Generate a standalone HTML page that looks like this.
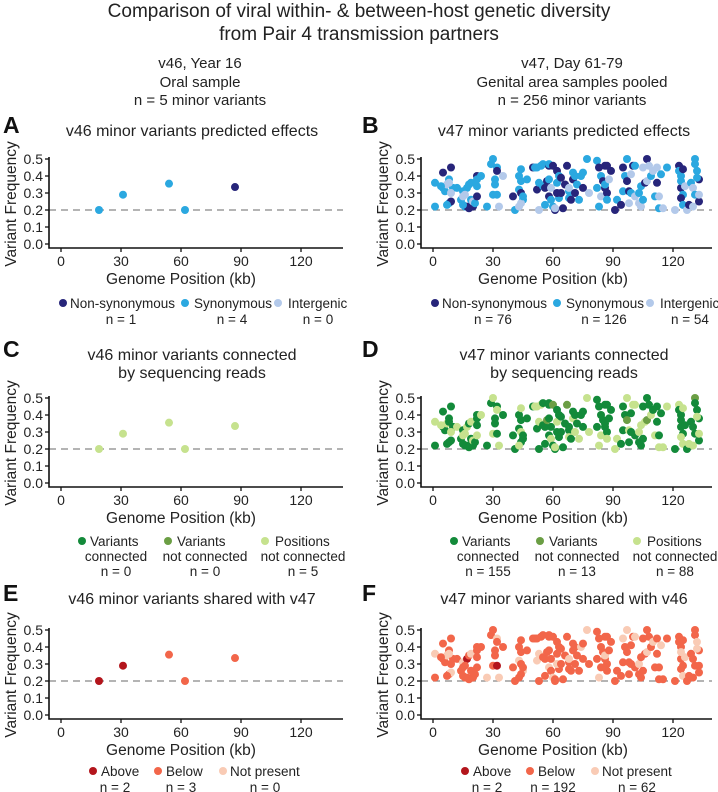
<!DOCTYPE html>
<html><head><meta charset="utf-8"><style>
html,body{margin:0;padding:0;background:#fff}
svg{display:block;font-family:"Liberation Sans",Arial,sans-serif}
</style></head><body>
<svg id="fig" width="718" height="792" viewBox="0 0 718 792" xmlns="http://www.w3.org/2000/svg">
<g font-size="19" fill="#222" text-anchor="middle">
<text x="359" y="17">Comparison of viral within- &amp; between-host genetic diversity</text>
<text x="359" y="40">from Pair 4 transmission partners</text>
</g>
<g font-size="15" fill="#222" text-anchor="middle">
<text x="200" y="68">v46, Year 16</text><text x="200" y="87">Oral sample</text><text x="200" y="105">n = 5 minor variants</text>
</g>
<g font-size="15" fill="#222" text-anchor="middle">
<text x="572" y="68">v47, Day 61-79</text><text x="572" y="87">Genital area samples pooled</text><text x="572" y="105">n = 256 minor variants</text>
</g>
<g id="panels"></g>
</svg>
<script>
// v46 variants: kb, frequency
const v46Kb = [19, 31, 54, 62, 87];
const v46Freq = [0.20, 0.29, 0.355, 0.20, 0.335];
const v46Effect = ['S','S','S','S','N'];
const v46Conn = ['P','P','P','P','P'];
const v46Shared = ['A','A','B','B','B'];

// v47 variants: [kb, frequency, predicted effect]
const v47Variants = [
[1,.36,'S'],[1,.22,'S'],[5,.42,'N'],[5,.33,'S'],[6,.31,'S'],[7,.35,'I'],[8,.38,'S'],[8,.24,'S'],[9,.45,'N'],[9,.25,'N'],[10,.33,'S'],[9,.30,'I'],[7,.23,'S'],[8,.36,'I'],[4,.34,'S'],
[12,.33,'S'],[14,.26,'S'],[15,.31,'S'],[15,.28,'I'],[16,.22,'S'],[17,.22,'N'],[17,.33,'S'],[18,.35,'S'],[18,.21,'N'],[16,.29,'I'],[19,.36,'S'],[19,.26,'S'],[20,.22,'N'],[20,.25,'I'],[21,.24,'S'],[15,.23,'S'],
[22,.40,'N'],[22,.38,'S'],[22,.28,'N'],[22,.34,'S'],[24,.40,'S'],[27,.22,'S'],[29,.47,'S'],[30,.50,'S'],[30,.29,'S'],[31,.38,'S'],[31,.35,'S'],[32,.45,'S'],[32,.29,'S'],[32,.43,'N'],[33,.22,'I'],[35,.40,'I'],
[40,.28,'N'],[41,.20,'S'],[43,.32,'S'],[43,.40,'S'],[44,.37,'S'],[44,.44,'S'],[44,.30,'N'],[45,.26,'S'],[44,.24,'I'],[45,.28,'S'],[43,.22,'I'],[47,.38,'S'],[50,.45,'N'],
[51,.45,'S'],[52,.45,'S'],[52,.32,'N'],[53,.20,'I'],[53,.36,'S'],[54,.46,'S'],[55,.47,'S'],[55,.34,'S'],[56,.33,'N'],[56,.23,'S'],[57,.37,'N'],[58,.46,'N'],[58,.47,'S'],[58,.38,'S'],[58,.28,'N'],[59,.26,'S'],[59,.33,'I'],[60,.22,'S'],[60,.46,'N'],[61,.20,'N'],[62,.43,'N'],[62,.36,'S'],[63,.27,'S'],[62,.30,'N'],[61,.21,'I'],[64,.30,'N'],[65,.21,'N'],[63,.40,'S'],[64,.39,'N'],
[66,.35,'N'],[67,.46,'N'],[68,.31,'S'],[68,.27,'S'],[69,.26,'N'],[68,.33,'I'],[70,.38,'N'],[70,.42,'S'],[71,.40,'S'],[71,.30,'N'],[72,.35,'S'],[73,.26,'S'],[74,.40,'S'],[75,.33,'N'],[75,.42,'S'],[77,.50,'S'],[78,.30,'I'],
[82,.49,'S'],[83,.22,'S'],[83,.45,'N'],[82,.33,'S'],[84,.28,'I'],[84,.40,'S'],[85,.37,'N'],[86,.46,'N'],[86,.33,'N'],[86,.35,'S'],[87,.30,'N'],[87,.46,'N'],[87,.26,'S'],[88,.38,'I'],[89,.43,'N'],[91,.20,'N'],[92,.26,'S'],
[94,.23,'N'],[95,.31,'S'],[95,.45,'N'],[96,.40,'S'],[97,.37,'N'],[97,.50,'S'],[98,.24,'I'],[98,.31,'N'],[99,.41,'I'],[99,.30,'S'],[100,.46,'N'],[101,.46,'S'],[101,.28,'I'],[103,.24,'I'],[103,.30,'S'],[104,.34,'S'],[104,.22,'I'],[105,.26,'S'],[105,.45,'I'],[106,.36,'N'],[107,.50,'N'],[107,.37,'I'],[108,.46,'I'],[109,.40,'S'],[110,.43,'I'],[111,.28,'S'],[112,.36,'N'],[112,.45,'I'],
[113,.21,'S'],[113,.28,'I'],[114,.41,'S'],[115,.21,'I'],[117,.45,'S'],[121,.20,'I'],[123,.46,'N'],[123,.43,'S'],[124,.40,'S'],[124,.33,'N'],[124,.37,'S'],[125,.29,'S'],[124,.27,'N'],[125,.23,'S'],[125,.44,'N'],[126,.34,'I'],[127,.20,'I'],[128,.23,'N'],[129,.36,'S'],[130,.33,'I'],[131,.50,'S'],[131,.47,'S'],[132,.43,'S'],[131,.29,'S'],[130,.22,'I'],[133,.38,'N'],[133,.25,'N'],[132,.39,'S'],[133,.29,'I']
];
// connection status per v47 variant (C=connected, N=not connected, P=position not connected)
const v47Conn = ("PCCCCPCCCCCPCCP"+"PCCPCCPCCPPCCPC"+"CCCPCPCCPPCCCCP"+"PCCCCCCPPCCCPCC"+"PPCCPPCCCCNCCCCPCCNCCPCCPCCCC"+"CNCPCCPCCPCPCCCPP"+"CPCCPCCCCCCCPCCPP"+"CCCCNPCPCCPPCCPPCCCPCNCPCPCC"+"PCCPPCPCCCCCPPPCCPCCNCCCPCCPP").split('');
// shared status per v47 variant (A=above, B=below, X=not present)
const v47Shared = ("XBBBBXBBBXBBBXB"+"BBXBBBABBBXBBBB"+"BBBBBBXBBBBBXABX"+"BBBXBBBBXBBBB"+"BBBXBXBBBBBBBBBXBBXBBBBBXBBBB"+"BBBBBBXBBBBBBXBBX"+"BBXBBBBBBBXBBBBBB"+"BBBXBBXBBBBBXBBXBBBBBBXBBXBB"+"BBBXBBBBBBBXBBXBXBBBBBBXBBBBX").split('');

// legend counts printed in the figure (full v47 set of 256 variants; many overlap in the plot)
const v47EffCounts = {N:76, S:126, I:54};
const v47ConnCounts = {C:155, N:13, P:88};
const v47SharedCounts = {A:2, B:192, X:62};
const v46EffCounts = {N:1, S:4, I:0};
const v46ConnCounts = {C:0, N:0, P:5};
const v46SharedCounts = {A:2, B:3, X:0};

const effColors = {N:'#27257a', S:'#2ba8e0', I:'#b3c9ea'};
const connColors = {C:'#138a3a', N:'#6b9e44', P:'#c6e28e'};
const sharedColors = {A:'#b3151c', B:'#f2664a', X:'#f9cbb5'};
const xTicks = [0,30,60,90,120];
const yTicks = ['0.0','0.1','0.2','0.3','0.4','0.5'];

const NS='http://www.w3.org/2000/svg';
const root=document.getElementById('panels');
function mk(tag,attrs,parent,text){const e=document.createElementNS(NS,tag);for(const k in attrs)e.setAttribute(k,attrs[k]);if(text!==undefined)e.textContent=text;(parent||root).appendChild(e);return e;}

function panel(opt){
  const g=mk('g',{});
  
  
  const ax=opt.ax, x0=ax+12, yTop=opt.yTop, y0=yTop+85;
  const sx=kb=>x0+kb*2, sy=f=>y0-f*170;
  const L=mk('text',{x:opt.lx,y:opt.titleY[0]+3,'font-size':23,'font-weight':'bold',fill:'#111'},g,opt.letter);
  
  
  opt.title.forEach((t,i)=>{const e=mk('text',{x:ax+143,y:opt.titleY[i]+6,'font-size':16,fill:'#222','text-anchor':'middle'},g,t);
    
    });
  const yl=mk('text',{transform:`translate(${ax-33},${yTop+45}) rotate(-90)`,'font-size':15.5,fill:'#222','text-anchor':'middle'},g,'Variant Frequency');
  
  
  const xl=mk('text',{x:x0+120,y:y0+40,'font-size':15.5,fill:'#222','text-anchor':'middle'},g,'Genome Position (kb)');
  
  
  const dash=mk('line',{x1:ax,x2:ax+opt.w,y1:sy(0.2),y2:sy(0.2),stroke:'#888','stroke-width':1.3,'stroke-dasharray':'7,5'},g);
  
  
  opt.kb.forEach((k,i)=>{const c=mk('circle',{cx:sx(k),cy:sy(opt.f[i]),r:4,fill:opt.colors[opt.cat[i]]||opt.colors[opt.def]},g);
    
    });
  const ya=mk('path',{d:`M${ax} ${yTop-2} V${y0+4} H${ax+opt.w}`,stroke:'#111','stroke-width':1.6,fill:'none'},g);
  
  
  yTicks.forEach(t=>{const y=sy(+t);mk('line',{x1:ax-4,x2:ax,y1:y,y2:y,stroke:'#111','stroke-width':1.3},g);
    const e=mk('text',{x:ax-6,y:y+5,'font-size':14,fill:'#222','text-anchor':'end'},g,t);
    
    });
  xTicks.forEach(t=>{const x=sx(t);mk('line',{x1:x,x2:x,y1:y0+4,y2:y0+8,stroke:'#111','stroke-width':1.3},g);
    const e=mk('text',{x:x,y:y0+22,'font-size':14,fill:'#222','text-anchor':'middle'},g,String(t));
    
    });
  opt.legend.forEach(le=>{const lg=mk('g',{},g);
    
    
    mk('circle',{cx:le.dx,cy:le.rows[0][1]-5,r:4,fill:le.color},lg);
    le.rows.forEach(r=>mk('text',{x:r[0],y:r[1],'font-size':13.5,fill:'#222','text-anchor':r[2]||'middle'},lg,r[3]));});
}

function buildRow(kind, off){
  [0,1].forEach(col=>{
    const ax=col?421:49, w=col?291:294, dx=col?372:0;
    const kb=col?v47Variants.map(v=>v[0]):v46Kb, f=col?v47Variants.map(v=>v[1]):v46Freq;
    const who=col?'v47':'v46', other=col?'v46':'v47';
    let cat,colors,title,legend,letter,def;
    if(kind==='eff'){cat=col?v47Variants.map(v=>v[2]):v46Effect;colors=effColors;def='S';letter=col?'B':'A';
      title=[who+' minor variants predicted effects'];const c=col?v47EffCounts:v46EffCounts;const ly=off+308,ny=off+324;
      legend=[{dx:63+dx,color:colors.N,rows:[[70+dx,ly,'start','Non-synonymous'],[121+dx,ny,'middle','n = '+c.N]]},
              {dx:185+dx,color:colors.S,rows:[[194+dx,ly,'start','Synonymous'],[232+dx,ny,'middle','n = '+c.S]]},
              {dx:278+dx,color:colors.I,rows:[[288+dx,ly,'start','Intergenic'],[318+dx,ny,'middle','n = '+c.I]]}];}
    else if(kind==='conn'){cat=col?v47Conn:v46Conn;colors=connColors;def='C';letter=col?'D':'C';
      title=[who+' minor variants connected','by sequencing reads'];const c=col?v47ConnCounts:v46ConnCounts;const y1=off+316,y2=off+331,y3=off+346;
      legend=[{dx:82+dx,color:colors.C,rows:[[90+dx,y1,'start','Variants'],[116+dx,y2,'middle','connected'],[116+dx,y3,'middle','n = '+c.C]]},
              {dx:168+dx,color:colors.N,rows:[[177+dx,y1,'start','Variants'],[205+dx,y2,'middle','not connected'],[205+dx,y3,'middle','n = '+c.N]]},
              {dx:265+dx,color:colors.P,rows:[[275+dx,y1,'start','Positions'],[303+dx,y2,'middle','not connected'],[303+dx,y3,'middle','n = '+c.P]]}];}
    else {cat=col?v47Shared:v46Shared;colors=sharedColors;def='B';letter=col?'F':'E';
      title=[who+' minor variants shared with '+other];const c=col?v47SharedCounts:v46SharedCounts;const ly=off+308,ny=off+324;
      legend=[{dx:93+dx,color:colors.A,rows:[[101+dx,ly,'start','Above'],[115+dx,ny,'middle','n = '+c.A]]},
              {dx:158+dx,color:colors.B,rows:[[166+dx,ly,'start','Below'],[181+dx,ny,'middle','n = '+c.B]]},
              {dx:223+dx,color:colors.X,rows:[[230+dx,ly,'start','Not present'],[265+dx,ny,'middle','n = '+c.X]]}];}
    const tY = kind==='conn'?[off+124,off+142]:[off+130];
    const yTop = kind==='conn'?398:(kind==='eff'?159:630);
    panel({name:'panel-'+letter.toLowerCase(),ax,w,yTop,kb,f,cat,colors,def,title,titleY:tY,letter,lx:col?362:3,legend});
  });
}
buildRow('eff',0);
buildRow('conn',230);
buildRow('shared',468);
</script>
</body></html>
